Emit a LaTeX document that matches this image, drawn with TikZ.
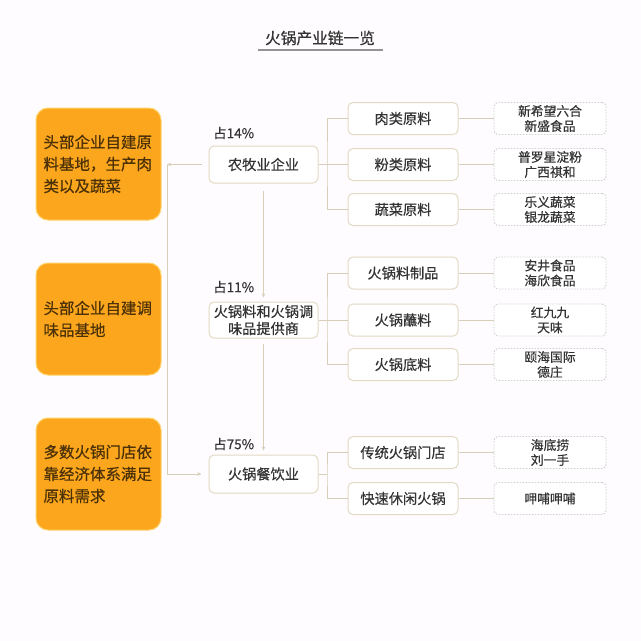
\documentclass[tikz,border=0pt]{standalone}
\usepackage{fontspec}
\setmainfont{Noto Sans CJK SC}[UprightFeatures={FakeBold=0.4}]
\usetikzlibrary{arrows.meta}
\definecolor{bgc}{HTML}{FEFCFE}
\definecolor{orangef}{HTML}{FBA61C}
\definecolor{orangeb}{HTML}{FFD36A}
\definecolor{brownt}{HTML}{4B3008}
\definecolor{beige}{HTML}{E2DAC4}
\definecolor{connc}{HTML}{D6CEB8}
\definecolor{dotc}{HTML}{CFCFCF}
\definecolor{txt}{HTML}{333333}
\tikzset{
  obox/.style={draw=orangeb, line width=1pt, fill=orangef, rounded corners=12pt,
    minimum width=125pt, minimum height=112pt, text width=110pt, align=left,
    text=brownt, font=\fontsize{15.5}{22}\selectfont, inner sep=0pt},
  mbox/.style={draw=beige, line width=1pt, fill=white, rounded corners=5pt,
    minimum width=109pt, minimum height=37pt, align=center, text=txt,
    font=\fontsize{14.2}{17}\selectfont, inner sep=0pt},
  bbox/.style={draw=beige, line width=1pt, fill=white, rounded corners=5pt,
    minimum width=110pt, minimum height=32pt, align=center, text=txt,
    font=\fontsize{14.2}{17}\selectfont, inner sep=0pt},
  dbox/.style={draw=dotc, line width=0.9pt, dash pattern=on 1.5pt off 1.5pt,
    fill=white, rounded corners=4pt, minimum width=112pt, minimum height=32pt,
    align=center, text=txt, font=\fontsize{12.8}{15}\selectfont, inner sep=0pt},
  pct/.style={anchor=west, text=txt, font=\fontsize{13.5}{15}\selectfont, inner sep=0pt},
  conn/.style={draw=connc, line width=1pt},
  arr/.style={conn, -{Stealth[length=4pt,width=3.5pt]}},
}
\begin{document}
\begin{tikzpicture}[x=1pt,y=-1pt]
\fill[bgc] (0,0) rectangle (641,641);
\useasboundingbox (0,0) rectangle (641,641);

% title
\node[text=txt, font=\fontsize{15.7}{18}\selectfont, inner sep=0pt] (title) at (320,38) {火锅产业链一览};
\coordinate (ul1) at (258,50);
\coordinate (ul2) at (383,50);
\draw[draw=gray!85, line width=2pt] (ul1) -- (ul2);

% orange boxes
\node[obox] (o1) at (98.5,164) {头部企业自建原\\料基地，生产肉\\类以及蔬菜};
\node[obox] (o2) at (98.5,319) {头部企业自建调\\味品基地};
\node[obox] (o3) at (98.5,474) {多数火锅门店依\\靠经济体系满足\\原料需求};

% middle boxes
\node[mbox] (n1) at (263.5,164.5) {农牧业企业};
\node[mbox, minimum height=36pt] (n2) at (263.5,320) {火锅料和火锅调\\味品提供商};
\node[mbox, minimum height=38pt] (n3) at (263.5,474) {火锅餐饮业};

\node[pct] (p1) at (213,133) {占14\%};
\node[pct] (p2) at (213,287) {占11\%};
\node[pct] (p3) at (213,444) {占75\%};

% branch boxes
\node[bbox] (b1) at (403,118.5) {肉类原料};
\node[bbox] (b2) at (403,164.5) {粉类原料};
\node[bbox] (b3) at (403,209.5) {蔬菜原料};
\node[bbox] (b4) at (403,273) {火锅料制品};
\node[bbox] (b5) at (403,320) {火锅蘸料};
\node[bbox] (b6) at (403,364.5) {火锅底料};
\node[bbox] (b7) at (403,452.5) {传统火锅门店};
\node[bbox] (b8) at (403,498.5) {快速休闲火锅};

% dashed boxes
\node[dbox] (d1) at (550,118.5) {新希望六合\\新盛食品};
\node[dbox] (d2) at (550,164.5) {普罗星淀粉\\广西祺和};
\node[dbox] (d3) at (550,209.5) {乐义蔬菜\\银龙蔬菜};
\node[dbox] (d4) at (550,273) {安井食品\\海欣食品};
\node[dbox] (d5) at (550,320) {红九九\\天味};
\node[dbox] (d6) at (550,364.5) {颐海国际\\德庄};
\node[dbox] (d7) at (550,452.5) {海底捞\\刘一手};
\node[dbox] (d8) at (550,498.5) {呷哺呷哺};

% trunk coordinates
\coordinate (t1) at (327,164.5);
\coordinate (t2) at (327,320);
\coordinate (t3) at (327,474);

\draw[conn] (b1.west) -| (t1) |- (b3.west);
\draw[conn] (n1.east) -- (b2.west);
\draw[conn] (b4.west) -| (t2) |- (b6.west);
\draw[conn] (n2.east) -- (b5.west);
\draw[conn] (b7.west) -| (t3) |- (b8.west);
\draw[conn] (n3.east) -- (t3);

\foreach \i in {1,...,8} { \draw[conn] (b\i.east) -- (d\i.west); }

% middle arrows
\draw[arr, shorten <=7pt, shorten >=4pt] (n1.south) -- (n2.north);
\draw[arr, shorten <=5pt, shorten >=4pt] (n2.south) -- (n3.north);

% left connectors
\coordinate (L1) at (167,164.5);
\coordinate (L3) at (167,474);
\draw[arr, shorten <=7pt] (n1.west) -- (L1);
\draw[conn] (L1) -- (L3);
\draw[arr, shorten >=7pt] (L3) -- (n3.west);
\end{tikzpicture}
\end{document}
